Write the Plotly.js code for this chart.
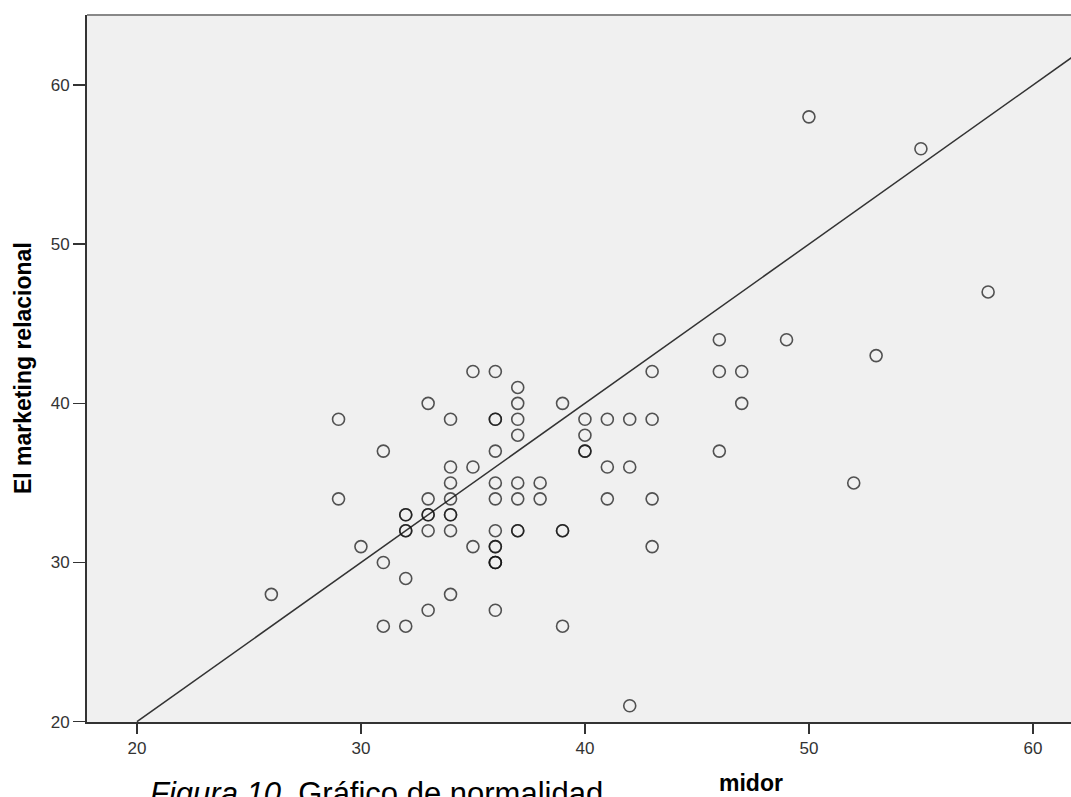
<!DOCTYPE html>
<html>
<head>
<meta charset="utf-8">
<script src="https://cdn.plot.ly/plotly-3.0.1.min.js"></script>
<style>html,body{margin:0;padding:0;background:#fff;}#chart{width:1071px;height:797px;}</style>
</head>
<body>
<div id="chart"></div>
<script>
// midor (x) values
const midor = [26,29,29,30,31,31,31,32,32,32,32,32,32,33,33,33,33,33,33,
  34,34,34,34,34,34,34,34,35,35,35,36,36,36,36,36,36,36,36,36,36,36,36,36,
  37,37,37,37,37,37,37,37,38,38,39,39,39,39,40,40,40,40,41,41,41,42,42,42,
  43,43,43,43,46,46,46,47,47,49,50,52,53,55,58];
// El marketing relacional (y) values
const marketing = [28,39,34,31,37,30,26,33,33,32,32,29,26,40,34,33,33,32,27,
  39,36,35,34,33,33,32,28,42,36,31,42,39,39,37,35,34,32,31,31,30,30,30,27,
  41,40,39,38,35,34,32,32,35,34,40,32,32,26,39,38,37,37,39,36,34,39,36,21,
  42,39,34,31,44,42,37,42,40,44,58,35,43,56,47];
// reference line (y = x)
const refX = [20, 62];
const refY = [20, 62];
const tickVals = [20, 30, 40, 50, 60];
const tickText = ['20', '30', '40', '50', '60'];

const traces = [
  {x: refX, y: refY, mode: 'lines', type: 'scatter',
   line: {color: '#333333', width: 1.5}, hoverinfo: 'skip', showlegend: false},
  {x: midor, y: marketing, mode: 'markers', type: 'scatter',
   marker: {symbol: 'circle-open', size: 12, color: 'rgba(20,20,20,0.72)', line: {width: 1.6}},
   showlegend: false}
];

const layout = {
  width: 1071, height: 797,
  margin: {l: 87, r: 0, t: 15, b: 75, pad: 0},
  paper_bgcolor: '#ffffff',
  plot_bgcolor: '#f0f0f0',
  font: {family: 'Arial, "Liberation Sans", sans-serif', color: '#333'},
  showlegend: false,
  xaxis: {range: [17.77, 61.70], tickvals: tickVals, ticktext: tickText,
    showgrid: false, zeroline: false, showline: true, linecolor: '#333', linewidth: 2,
    ticks: 'outside', ticklen: 10, tickwidth: 1.5, tickcolor: '#333',
    tickfont: {size: 17, color: '#333'}},
  yaxis: {range: [19.98, 64.4], tickvals: tickVals, ticktext: tickText,
    showgrid: false, zeroline: false, showline: true, linecolor: '#333', linewidth: 2,
    ticks: 'outside', ticklen: 12, tickwidth: 1.5, tickcolor: '#333',
    tickfont: {size: 17, color: '#333'}},
  shapes: [
    {type: 'line', xref: 'paper', yref: 'paper', x0: 0, x1: 1, y0: 1, y1: 1,
     line: {color: '#888888', width: 2}}
  ],
  annotations: [
    {text: '<b>El marketing relacional</b>', xref: 'paper', yref: 'paper',
     x: -0.065, y: 0.5007, xanchor: 'center', yanchor: 'middle', textangle: -90,
     showarrow: false, font: {size: 23, color: '#000'}},
    {text: '<b>midor</b>', xref: 'paper', yref: 'paper',
     x: 0.675, y: -0.0863, xanchor: 'center', yanchor: 'middle',
     showarrow: false, font: {size: 23, color: '#000'}},
    {text: '<i>Figura 10.</i> Gráfico de normalidad', xref: 'paper', yref: 'paper',
     x: 0.062, y: -0.0735, xanchor: 'left', yanchor: 'top',
     showarrow: false, font: {size: 31, color: '#000'}}
  ]
};

Plotly.newPlot('chart', traces, layout, {displayModeBar: false, staticPlot: true});
</script>
</body>
</html>
